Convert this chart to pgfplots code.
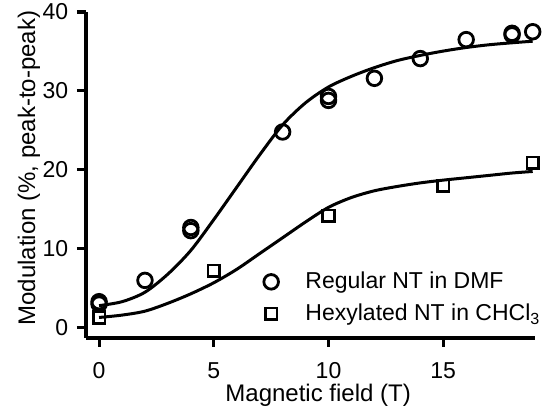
\documentclass[border=0pt]{standalone}
\usepackage{fontspec}
\setmainfont{Liberation Sans}
\usepackage{pgfplots}
\pgfplotsset{compat=1.18}
\begin{document}
\fontsize{23}{27}\selectfont
\begin{tikzpicture}
\begin{axis}[
  at={(86pt,74pt)}, anchor=south west,
  scale only axis, width=449pt, height=326pt,
  xmin=-0.57, xmax=19.0, ymin=-1.3, ymax=40,
  axis lines=left, axis line style={-, line width=3.3pt},
  xtick={0,5,10,15}, ytick={0,10,20,30,40},
  tick align=outside, major tick length=9pt,
  every tick/.style={black, line width=3.1pt},
  /pgf/number format/assume math mode=true,
  tick label style={font=\fontsize{23}{27}\selectfont},
  yticklabel style={xshift=-1pt},
  xticklabel style={yshift=-8pt},
  label style={font=\fontsize{24}{28}\selectfont},
  xlabel={Magnetic field (T)},
  ylabel={Modulation (\%, peak-to-peak)},
  xlabel style={at={(axis description cs:0.517,-0.175)}, anchor=center},
  ylabel style={at={(axis description cs:-0.127,0.521)}, anchor=center},
  clip=false,
  legend cell align=left,
  legend style={draw=none, fill=none, at={(axis description cs:0.389,0.123)}, anchor=west,
    font=\fontsize{23}{27}\selectfont, column sep=25pt, row sep=8pt},
]
% fitted curves
\addplot[black, line width=3pt, smooth, forget plot] coordinates {
  (0,2.8) (1,3.3) (2,4.5) (3,6.8) (4,9.8) (5,13.7) (6,17.8) (7,21.9) (8,25.7) (9,28.5)
  (10,30.5) (11,31.85) (12,32.95) (13,33.85) (14,34.5) (15,35.05) (16,35.5) (17,35.85) (18,36.1) (18.9,36.3)};
\addplot[black, line width=3pt, smooth, forget plot] coordinates {
  (0,1.3) (1,1.6) (2,2.1) (3,3.1) (4,4.3) (5,5.7) (6,7.4) (7,9.4) (8,11.4) (9,13.4)
  (10,15.25) (11,16.5) (12,17.35) (13,17.9) (14,18.35) (15,18.7) (16,19.0) (17,19.3) (18,19.6) (18.9,19.8)};
% data
\addplot[only marks, mark=o, mark size=7.3pt, line width=2.8pt, black] coordinates {
  (0,3.0) (0,3.3) (2,6.0) (4,12.3) (4,12.7) (8,24.8) (10,28.8) (10,29.3)
  (12,31.6) (14,34.1) (16,36.5) (18,37.1) (18,37.3) (18.9,37.5)};
\addlegendentry{Regular NT in DMF}
\addplot[only marks, mark=square, mark size=5.8pt, line width=2.6pt, black] coordinates {
  (0,1.3) (5,7.2) (10,14.2) (15,18.0) (18.9,20.9)};
\addlegendentry{Hexylated NT in CHCl\textsubscript{3}}
\end{axis}
\pgfresetboundingbox
\useasboundingbox (0,0) rectangle (560pt,412pt);
\end{tikzpicture}
\end{document}
